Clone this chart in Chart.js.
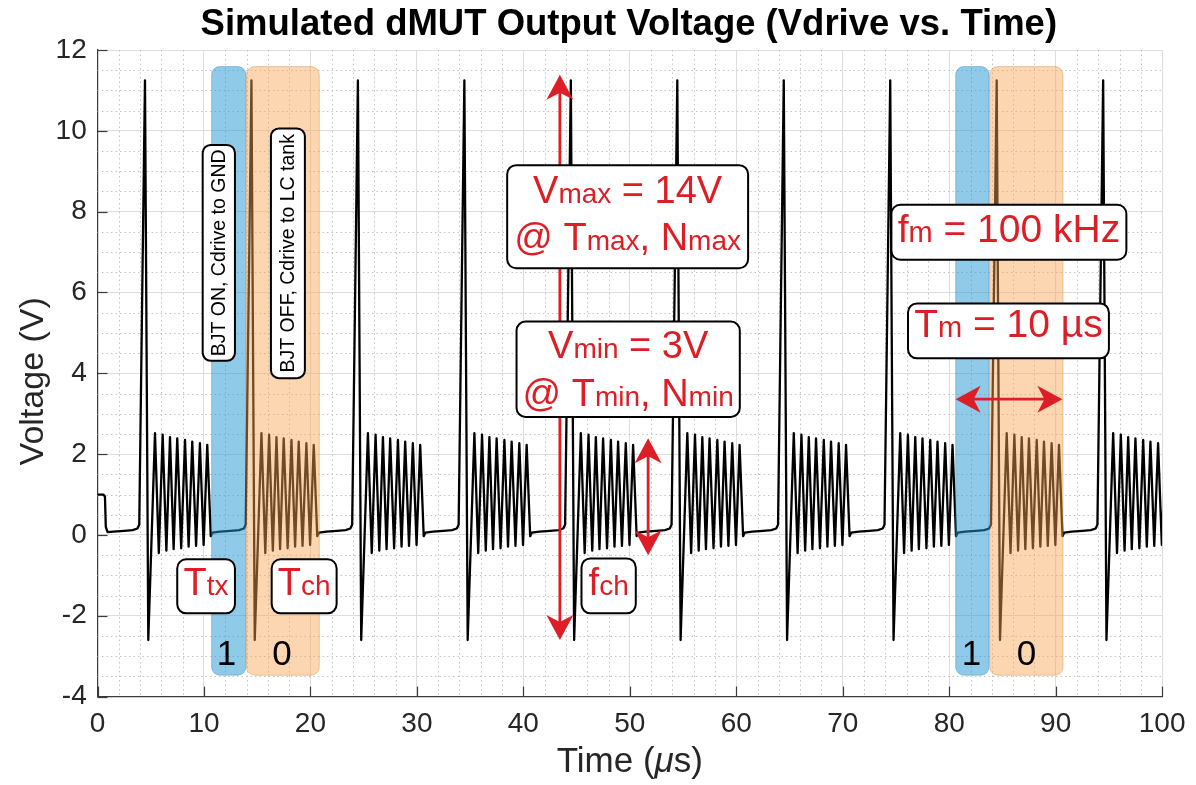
<!DOCTYPE html>
<html><head><meta charset="utf-8">
<script src="https://cdn.jsdelivr.net/npm/chart.js@4.4.1/dist/chart.umd.min.js"></script>
<style>html,body{margin:0;padding:0;background:#fff;overflow:hidden}#wrap{width:1196px;height:785px}</style>
</head><body><div id="wrap"><canvas id="c" width="1196" height="785"></canvas></div>
<script>
// ---------------- data ----------------
const timeUs = [
  0, 0.55, 0.7, 0.78, 0.95, 1.5, 2.5, 3.3, 3.75, 3.92, 4.46, 4.77, 5.40, 5.76, 6.12, 6.47, 6.81, 7.15, 7.49, 7.86, 8.22, 8.56, 8.90, 9.26, 9.62, 9.97, 10.31,
  10.64, 10.8, 11.5, 12.5, 13.3, 13.75, 13.92, 14.46, 14.77, 15.40, 15.76, 16.12, 16.47, 16.81, 17.15, 17.49, 17.86, 18.22, 18.56, 18.90, 19.26, 19.62, 19.97, 20.31,
  20.64, 20.8, 21.5, 22.5, 23.3, 23.75, 23.92, 24.46, 24.77, 25.40, 25.76, 26.12, 26.47, 26.81, 27.15, 27.49, 27.86, 28.22, 28.56, 28.90, 29.26, 29.62, 29.97, 30.31,
  30.64, 30.8, 31.5, 32.5, 33.3, 33.75, 33.92, 34.46, 34.77, 35.40, 35.76, 36.12, 36.47, 36.81, 37.15, 37.49, 37.86, 38.22, 38.56, 38.90, 39.26, 39.62, 39.97, 40.31,
  40.64, 40.8, 41.5, 42.5, 43.3, 43.75, 43.92, 44.46, 44.77, 45.40, 45.76, 46.12, 46.47, 46.81, 47.15, 47.49, 47.86, 48.22, 48.56, 48.90, 49.26, 49.62, 49.97, 50.31,
  50.64, 50.8, 51.5, 52.5, 53.3, 53.75, 53.92, 54.46, 54.77, 55.40, 55.76, 56.12, 56.47, 56.81, 57.15, 57.49, 57.86, 58.22, 58.56, 58.90, 59.26, 59.62, 59.97, 60.31,
  60.64, 60.8, 61.5, 62.5, 63.3, 63.75, 63.92, 64.46, 64.77, 65.40, 65.76, 66.12, 66.47, 66.81, 67.15, 67.49, 67.86, 68.22, 68.56, 68.90, 69.26, 69.62, 69.97, 70.31,
  70.64, 70.8, 71.5, 72.5, 73.3, 73.75, 73.92, 74.46, 74.77, 75.40, 75.76, 76.12, 76.47, 76.81, 77.15, 77.49, 77.86, 78.22, 78.56, 78.90, 79.26, 79.62, 79.97, 80.31,
  80.64, 80.8, 81.5, 82.5, 83.3, 83.75, 83.92, 84.46, 84.77, 85.40, 85.76, 86.12, 86.47, 86.81, 87.15, 87.49, 87.86, 88.22, 88.56, 88.90, 89.26, 89.62, 89.97, 90.31,
  90.64, 90.8, 91.5, 92.5, 93.3, 93.75, 93.92, 94.46, 94.77, 95.40, 95.76, 96.12, 96.47, 96.81, 97.15, 97.49, 97.86, 98.22, 98.56, 98.90, 99.26, 99.62, 99.97, 100.31
];
const vdrive = [
  1.0, 1.0, 0.95, 0.2, 0.07, 0.08, 0.1, 0.12, 0.16, 0.25, 11.25, -2.6, 2.52, -0.45, 2.48, -0.39, 2.42, -0.35, 2.39, -0.33, 2.35, -0.29, 2.31, -0.27, 2.27, -0.25, 2.23,
  -0.03, 0.06, 0.08, 0.1, 0.12, 0.16, 0.25, 11.25, -2.6, 2.52, -0.45, 2.48, -0.39, 2.42, -0.35, 2.39, -0.33, 2.35, -0.29, 2.31, -0.27, 2.27, -0.25, 2.23,
  -0.03, 0.06, 0.08, 0.1, 0.12, 0.16, 0.25, 11.25, -2.6, 2.52, -0.45, 2.48, -0.39, 2.42, -0.35, 2.39, -0.33, 2.35, -0.29, 2.31, -0.27, 2.27, -0.25, 2.23,
  -0.03, 0.06, 0.08, 0.1, 0.12, 0.16, 0.25, 11.25, -2.6, 2.52, -0.45, 2.48, -0.39, 2.42, -0.35, 2.39, -0.33, 2.35, -0.29, 2.31, -0.27, 2.27, -0.25, 2.23,
  -0.03, 0.06, 0.08, 0.1, 0.12, 0.16, 0.25, 11.25, -2.6, 2.52, -0.45, 2.48, -0.39, 2.42, -0.35, 2.39, -0.33, 2.35, -0.29, 2.31, -0.27, 2.27, -0.25, 2.23,
  -0.03, 0.06, 0.08, 0.1, 0.12, 0.16, 0.25, 11.25, -2.6, 2.52, -0.45, 2.48, -0.39, 2.42, -0.35, 2.39, -0.33, 2.35, -0.29, 2.31, -0.27, 2.27, -0.25, 2.23,
  -0.03, 0.06, 0.08, 0.1, 0.12, 0.16, 0.25, 11.25, -2.6, 2.52, -0.45, 2.48, -0.39, 2.42, -0.35, 2.39, -0.33, 2.35, -0.29, 2.31, -0.27, 2.27, -0.25, 2.23,
  -0.03, 0.06, 0.08, 0.1, 0.12, 0.16, 0.25, 11.25, -2.6, 2.52, -0.45, 2.48, -0.39, 2.42, -0.35, 2.39, -0.33, 2.35, -0.29, 2.31, -0.27, 2.27, -0.25, 2.23,
  -0.03, 0.06, 0.08, 0.1, 0.12, 0.16, 0.25, 11.25, -2.6, 2.52, -0.45, 2.48, -0.39, 2.42, -0.35, 2.39, -0.33, 2.35, -0.29, 2.31, -0.27, 2.27, -0.25, 2.23,
  -0.03, 0.06, 0.08, 0.1, 0.12, 0.16, 0.25, 11.25, -2.6, 2.52, -0.45, 2.48, -0.39, 2.42, -0.35, 2.39, -0.33, 2.35, -0.29, 2.31, -0.27, 2.27, -0.25, 2.23
];
const xTickValues = [0, 10, 20, 30, 40, 50, 60, 70, 80, 90, 100];
const yTickValues = [-4, -2, 0, 2, 4, 6, 8, 10, 12];
const xMinorValues = [2,4,6,8,12,14,16,18,22,24,26,28,32,34,36,38,42,44,46,48,52,54,56,58,62,64,66,68,72,74,76,78,82,84,86,88,92,94,96,98];
const yMinorValues = [-3.5,-3,-2.5,-1.5,-1,-0.5,0.5,1,1.5,2.5,3,3.5,4.5,5,5.5,6.5,7,7.5,8.5,9,9.5,10.5,11,11.5];

const titleText = 'Simulated dMUT Output Voltage (Vdrive vs. Time)';
const yTitleText = 'Voltage (V)';

// shaded phases (bit "1" = BJT ON, bit "0" = BJT OFF)
const phaseStart = [10.72, 14.00, 80.61, 83.80];
const phaseEnd   = [13.94, 20.83, 83.74, 90.69];
const phaseBit   = ['1', '0', '1', '0'];
const phaseBitX  = [12.11, 17.32, 82.08, 87.25];

// ---------------- styling / annotation layout ----------------
const FONT = '"Liberation Sans", Arial, Helvetica, sans-serif';
const RED = 'rgb(222,30,38)';
const phaseStyle = {
  '1': {fill: 'rgba(31,149,209,0.5)', stroke: 'rgba(31,120,180,0.35)'},
  '0': {fill: 'rgba(248,164,79,0.45)', stroke: 'rgba(200,120,50,0.35)'}
};
const phaseTop = 11.59, phaseBottom = -3.47, bitBaseline = -3.22;

const textBoxes = [
  {x1: 38.48, x2: 61.11, y1: 9.15, y2: 6.60, lines: [
    {by: 8.21, segs: [['V', 38], ['max', 28], [' = 14V', 38]]},
    {by: 7.05, segs: [['@ T', 38], ['max', 28], [', N', 38], ['max', 28]]}]},
  {x1: 39.36, x2: 60.33, y1: 5.28, y2: 2.92, lines: [
    {by: 4.37, segs: [['V', 38], ['min', 28], [' = 3V', 38]]},
    {by: 3.19, segs: [['@ T', 38], ['min', 28], [', N', 38], ['min', 28]]}]},
  {x1: 74.57, x2: 96.64, y1: 8.17, y2: 6.81, lines: [
    {by: 7.26, segs: [['f', 39], ['m', 29], [' = 100 kHz', 39]]}]},
  {x1: 76.13, x2: 95.00, y1: 5.73, y2: 4.37, lines: [
    {by: 4.91, segs: [['T', 39], ['m', 29], [' = 10 µs', 39]]}]},
  {x1: 7.49, x2: 12.91, y1: -0.60, y2: -1.94, lines: [
    {by: -1.49, segs: [['T', 38], ['tx', 28]]}]},
  {x1: 16.36, x2: 22.46, y1: -0.60, y2: -1.94, lines: [
    {by: -1.49, segs: [['T', 38], ['ch', 28]]}]},
  {x1: 45.46, x2: 50.56, y1: -0.58, y2: -1.94, lines: [
    {by: -1.49, segs: [['f', 38], ['ch', 28]]}]}
];
const vertBoxes = [
  {x1: 9.88, x2: 12.91, y1: 9.65, y2: 4.31, text: 'BJT ON, Cdrive to GND'},
  {x1: 16.29, x2: 19.48, y1: 10.06, y2: 3.88, text: 'BJT OFF, Cdrive to LC tank'}
];
const arrows = [
  {x1: 43.43, y1: -2.6, x2: 43.43, y2: 11.39},
  {x1: 51.72, y1: -0.5, x2: 51.72, y2: 2.39},
  {x1: 80.6, y1: 3.36, x2: 90.63, y2: 3.36}
];

// ---------------- drawing helpers ----------------
function rrect(ctx, x, y, w, h, r) {
  ctx.beginPath();
  if (ctx.roundRect) ctx.roundRect(x, y, w, h, r);
  else ctx.rect(x, y, w, h);
}
function segFont(s) { return s[1] + 'px ' + FONT; }
function drawRich(ctx, segs, cx, by) {
  let w = 0;
  segs.forEach(s => { ctx.font = segFont(s); w += ctx.measureText(s[0]).width; });
  let x = cx - w / 2;
  ctx.textAlign = 'left'; ctx.textBaseline = 'alphabetic';
  segs.forEach(s => { ctx.font = segFont(s); ctx.fillText(s[0], x, by); x += ctx.measureText(s[0]).width; });
}
function arrowHead(ctx, tx, ty, dx, dy, L, W) {
  const px = -dy, py = dx;
  const bx = tx - dx * L, by = ty - dy * L;
  const nx = tx - dx * L * 0.72, ny = ty - dy * L * 0.72;
  ctx.beginPath();
  ctx.moveTo(tx, ty);
  ctx.lineTo(bx + px * W, by + py * W);
  ctx.lineTo(nx, ny);
  ctx.lineTo(bx - px * W, by - py * W);
  ctx.closePath();
  ctx.fill();
}

const decorPlugin = {
  id: 'decor',
  beforeDatasetsDraw(chart) {
    const {ctx, chartArea: a, scales: {x, y}} = chart;
    ctx.save();
    ctx.strokeStyle = 'rgb(196,196,196)';
    ctx.lineWidth = 1;
    ctx.setLineDash([1.5, 3]);
    xMinorValues.forEach(v => {
      const p = Math.round(x.getPixelForValue(v)) + 0.5;
      ctx.beginPath(); ctx.moveTo(p, a.top); ctx.lineTo(p, a.bottom); ctx.stroke();
    });
    yMinorValues.forEach(v => {
      const p = Math.round(y.getPixelForValue(v)) + 0.5;
      ctx.beginPath(); ctx.moveTo(a.left, p); ctx.lineTo(a.right, p); ctx.stroke();
    });
    ctx.setLineDash([]);
    // inward tick marks
    ctx.strokeStyle = '#3a3a3a';
    ctx.lineWidth = 1.2;
    xTickValues.forEach(v => {
      const p = Math.round(x.getPixelForValue(v)) + 0.5;
      ctx.beginPath(); ctx.moveTo(p, a.bottom); ctx.lineTo(p, a.bottom - 10); ctx.stroke();
    });
    yTickValues.forEach(v => {
      const p = Math.round(y.getPixelForValue(v)) + 0.5;
      ctx.beginPath(); ctx.moveTo(a.left, p); ctx.lineTo(a.left + 10, p); ctx.stroke();
    });
    ctx.restore();
  },
  afterDatasetsDraw(chart) {
    const {ctx, scales: {x, y}} = chart;
    ctx.save();
    // shaded phases
    phaseStart.forEach((s, i) => {
      const st = phaseStyle[phaseBit[i]];
      const x1 = x.getPixelForValue(s), x2 = x.getPixelForValue(phaseEnd[i]);
      const y1 = y.getPixelForValue(phaseTop), y2 = y.getPixelForValue(phaseBottom);
      rrect(ctx, x1, y1, x2 - x1, y2 - y1, 8);
      ctx.fillStyle = st.fill; ctx.fill();
      ctx.strokeStyle = st.stroke; ctx.lineWidth = 1; ctx.stroke();
      ctx.fillStyle = '#000';
      ctx.font = '35px ' + FONT;
      ctx.textAlign = 'center'; ctx.textBaseline = 'alphabetic';
      ctx.fillText(phaseBit[i], x.getPixelForValue(phaseBitX[i]), y.getPixelForValue(bitBaseline));
    });
    // arrows
    ctx.strokeStyle = RED; ctx.fillStyle = RED; ctx.lineWidth = 2.8;
    arrows.forEach(ar => {
      const x1 = x.getPixelForValue(ar.x1), y1 = y.getPixelForValue(ar.y1);
      const x2 = x.getPixelForValue(ar.x2), y2 = y.getPixelForValue(ar.y2);
      const len = Math.hypot(x2 - x1, y2 - y1);
      const dx = (x2 - x1) / len, dy = (y2 - y1) / len;
      ctx.beginPath();
      ctx.moveTo(x1 + dx * 16, y1 + dy * 16);
      ctx.lineTo(x2 - dx * 16, y2 - dy * 16);
      ctx.stroke();
      arrowHead(ctx, x2, y2, dx, dy, 25, 13.5);
      arrowHead(ctx, x1, y1, -dx, -dy, 25, 13.5);
    });
    // vertical text boxes
    vertBoxes.forEach(b => {
      const x1 = x.getPixelForValue(b.x1), x2 = x.getPixelForValue(b.x2);
      const y1 = y.getPixelForValue(b.y1), y2 = y.getPixelForValue(b.y2);
      rrect(ctx, x1, y1, x2 - x1, y2 - y1, 8);
      ctx.fillStyle = '#fff'; ctx.fill();
      ctx.strokeStyle = '#000'; ctx.lineWidth = 2; ctx.stroke();
      ctx.save();
      ctx.translate((x1 + x2) / 2 + 1, (y1 + y2) / 2);
      ctx.rotate(-Math.PI / 2);
      ctx.fillStyle = '#000';
      ctx.font = '19.5px ' + FONT;
      ctx.textAlign = 'center'; ctx.textBaseline = 'middle';
      ctx.fillText(b.text, 0, 0);
      ctx.restore();
    });
    // red text boxes
    textBoxes.forEach(b => {
      const x1 = x.getPixelForValue(b.x1), x2 = x.getPixelForValue(b.x2);
      const y1 = y.getPixelForValue(b.y1), y2 = y.getPixelForValue(b.y2);
      rrect(ctx, x1, y1, x2 - x1, y2 - y1, 9);
      ctx.fillStyle = '#fff'; ctx.fill();
      ctx.strokeStyle = '#000'; ctx.lineWidth = 2; ctx.stroke();
      ctx.fillStyle = RED;
      const cx = (x1 + x2) / 2;
      b.lines.forEach(l => drawRich(ctx, l.segs, cx, y.getPixelForValue(l.by)));
    });
    ctx.restore();
  },
  afterDraw(chart) {
    const {ctx, chartArea: a} = chart;
    ctx.save();
    ctx.fillStyle = '#000';
    ctx.font = 'bold 36.5px ' + FONT;
    ctx.textAlign = 'center'; ctx.textBaseline = 'alphabetic';
    ctx.fillText(titleText, (a.left + a.right) / 2 - 1, 35);
    // x title with italic mu
    ctx.fillStyle = '#262626';
    const parts = [['Time (', ''], ['\u03bc', 'italic '], ['s)', '']];
    let w = 0;
    parts.forEach(p => { ctx.font = p[1] + '35px ' + FONT; w += ctx.measureText(p[0]).width; });
    let xx = (a.left + a.right) / 2 - w / 2;
    ctx.textAlign = 'left';
    parts.forEach(p => { ctx.font = p[1] + '35px ' + FONT; ctx.fillText(p[0], xx, 772); xx += ctx.measureText(p[0]).width; });
    // y title
    ctx.translate(43, (a.top + a.bottom) / 2 + 8);
    ctx.rotate(-Math.PI / 2);
    ctx.font = '34px ' + FONT;
    ctx.textAlign = 'center';
    ctx.fillText(yTitleText, 0, 0);
    ctx.restore();
  }
};

new Chart(document.getElementById('c'), {
  type: 'line',
  data: {
    datasets: [{
      data: timeUs.map((t, i) => ({x: t, y: vdrive[i]})),
      borderColor: '#000',
      borderWidth: 2.3,
      pointRadius: 0,
      tension: 0,
      borderJoinStyle: 'round',
      fill: false
    }]
  },
  options: {
    responsive: false,
    animation: false,
    devicePixelRatio: 1,
    layout: {padding: {left: 0, right: 33.5, top: 50, bottom: 0}},
    plugins: {legend: {display: false}, tooltip: {enabled: false}, title: {display: false}},
    scales: {
      x: {
        type: 'linear', min: 0, max: 100,
        afterBuildTicks: s => { s.ticks = xTickValues.map(v => ({value: v})); },
        afterFit: s => { s.height = 88.4; },
        ticks: {font: {family: FONT, size: 28}, color: '#262626', padding: 10.5, maxRotation: 0, autoSkip: false},
        grid: {color: 'rgb(222,222,222)', lineWidth: 1, drawTicks: false},
        border: {color: '#3a3a3a', width: 1.2}
      },
      y: {
        type: 'linear', min: -4, max: 12,
        afterBuildTicks: s => { s.ticks = yTickValues.map(v => ({value: v})); },
        afterFit: s => { s.width = 97.5; },
        ticks: {font: {family: FONT, size: 28}, color: '#262626', padding: 10.8, autoSkip: false},
        grid: {color: 'rgb(222,222,222)', lineWidth: 1, drawTicks: false},
        border: {color: '#3a3a3a', width: 1.2}
      }
    }
  },
  plugins: [decorPlugin]
});
</script>
</body></html>
